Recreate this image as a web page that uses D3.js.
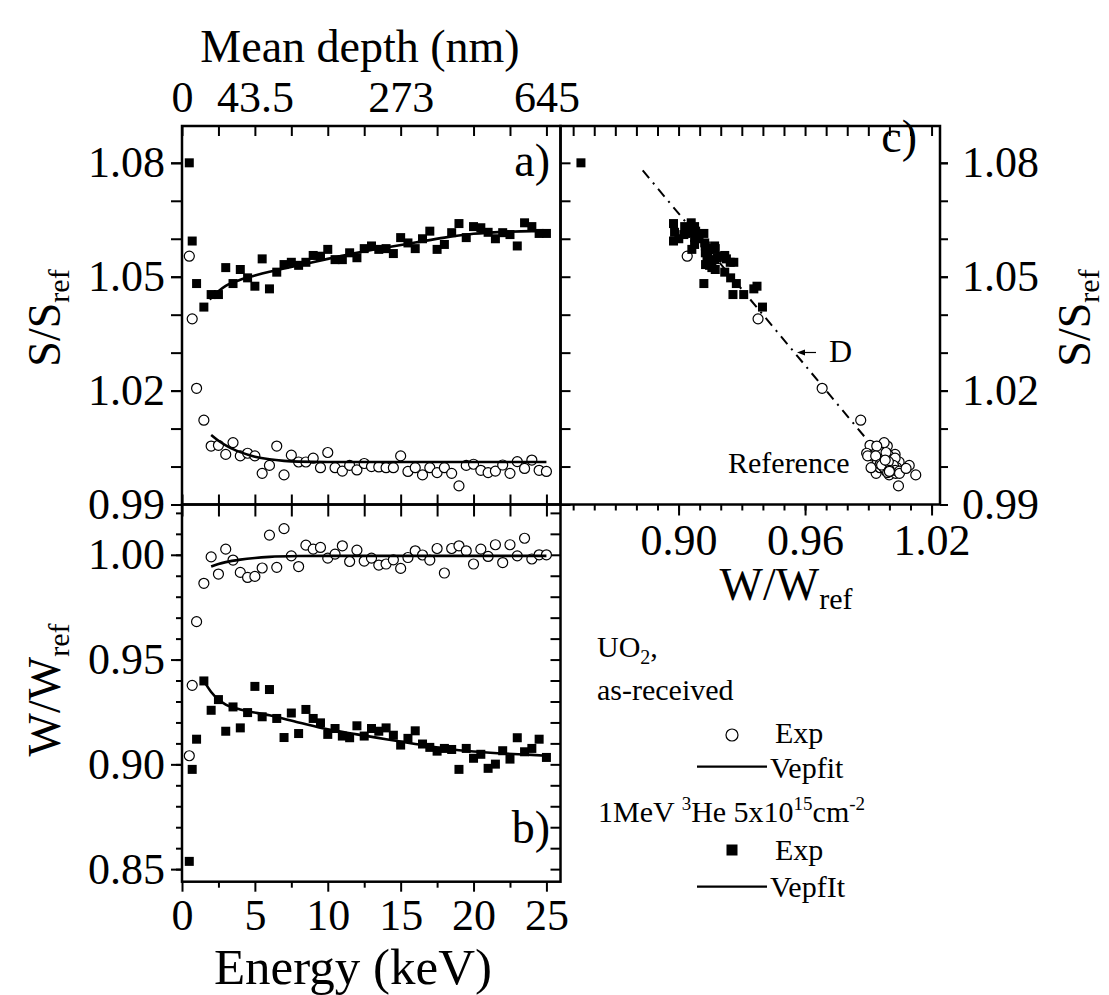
<!DOCTYPE html>
<html><head><meta charset="utf-8">
<script src="https://cdn.jsdelivr.net/npm/d3@7"></script>
<style>
body{margin:0;background:#fff}
svg{display:block}
text{font-family:"Liberation Serif","DejaVu Serif","Noto Serif",Tinos,"Times New Roman",serif;fill:#000}
</style>
</head><body>
<svg id="chart" width="1109" height="995"></svg>
<script>
// ---------------- data ----------------
const energy = [0.5,0.7,1.0,1.5,2.0,2.5,3.0,3.5,4.0,4.5,5.0,5.5,6.0,6.5,7.0,7.5,8.0,8.5,9.0,9.5,10.0,10.5,11.0,11.5,12.0,12.5,13.0,13.5,14.0,14.5,15.0,15.5,16.0,16.5,17.0,17.5,18.0,18.5,19.0,19.5,20.0,20.5,21.0,21.5,22.0,22.5,23.0,23.5,24.0,24.5,25.0];
// S/Sref, 1MeV 3He implanted (filled squares)
const sIrr = [1.0800,1.0594,1.0482,1.0420,1.0453,1.0453,1.0524,1.0482,1.0519,1.0497,1.0475,1.0547,1.0468,1.0512,1.0532,1.0538,1.0530,1.0538,1.0556,1.0554,1.0572,1.0545,1.0545,1.0563,1.0550,1.0574,1.0581,1.0572,1.0574,1.0561,1.0603,1.0589,1.0574,1.0600,1.0620,1.0572,1.0585,1.0616,1.0640,1.0603,1.0632,1.0629,1.0617,1.0600,1.0616,1.0611,1.0581,1.0642,1.0632,1.0614,1.0614];
// S/Sref, as-received (open circles)
const sAsr = [1.0554,1.0389,1.0206,1.0122,1.0054,1.0056,1.0032,1.0063,1.0028,1.0035,1.0028,0.9982,1.0003,1.0054,0.9978,1.0030,1.0012,1.0012,1.0022,0.9997,1.0037,0.9997,0.9988,1.0003,0.9991,1.0008,1.0000,0.9999,0.9997,0.9997,1.0028,0.9987,0.9997,0.9978,0.9997,0.9984,0.9997,0.9982,0.9949,1.0003,1.0006,0.9990,0.9984,0.9988,1.0004,0.9982,1.0013,0.9995,1.0017,0.9990,0.9987];
// W/Wref, 1MeV 3He implanted (filled squares)
const wIrr = [0.8537,0.8976,0.9120,0.9398,0.9258,0.9309,0.9158,0.9274,0.9174,0.9247,0.9372,0.9227,0.9357,0.9219,0.9128,0.9245,0.9147,0.9262,0.9219,0.9198,0.9143,0.9171,0.9135,0.9127,0.9184,0.9135,0.9171,0.9158,0.9174,0.9139,0.9092,0.9124,0.9160,0.9097,0.9081,0.9063,0.9076,0.9071,0.8976,0.9076,0.9029,0.9048,0.8981,0.9001,0.9065,0.9025,0.9127,0.9060,0.9076,0.9120,0.9033];
// W/Wref, as-received (open circles)
const wAsr = [0.9041,0.9377,0.9681,0.9864,0.9990,0.9908,1.0027,0.9975,0.9916,0.9892,0.9897,0.9937,1.0094,0.9940,1.0125,0.9995,0.9944,1.0046,1.0027,1.0035,0.9984,1.0003,1.0043,0.9968,1.0022,0.9970,0.9984,0.9951,0.9956,0.9976,0.9935,0.9987,1.0019,0.9999,0.9975,1.0030,0.9913,1.0030,1.0043,1.0019,0.9956,1.0027,0.9992,1.0048,0.9963,1.0048,0.9995,1.0079,0.9980,1.0000,1.0000];

// VEPFIT curves
const fitSIrrE = [1.9,2.5,3,4,5,6,8,10,12,14,16,18,20,22,24,25];
const fitSIrr  = [1.0440,1.0462,1.0476,1.0492,1.0503,1.0513,1.0530,1.0547,1.0563,1.0577,1.0590,1.0603,1.0613,1.0618,1.0620,1.0620];
const fitSAsrE = [2.0,2.5,3,3.5,4,5,6,7,8,10,15,20,25];
const fitSAsr  = [1.0083,1.0068,1.0056,1.0046,1.0038,1.0026,1.0019,1.0015,1.0013,1.0012,1.0012,1.0012,1.0012];
const fitWAsrE = [2.0,2.5,3,4,5,6,8,10,15,20,25];
const fitWAsr  = [0.9944,0.9956,0.9965,0.9977,0.9985,0.9990,0.9994,0.9995,0.9995,0.9995,0.9995];
const fitWIrrE = [1.5,2.0,2.5,3,4,6,8,10,12,14,16,18,20,22,24,25];
const fitWIrr  = [0.9398,0.9345,0.9309,0.9285,0.9262,0.9234,0.9200,0.9167,0.9143,0.9120,0.9097,0.9076,0.9061,0.9052,0.9045,0.9041];

// defect line D in the S-W plot
const lineDW = [0.883,1.000];
const lineDS = [1.078,1.000];

// ticks
const energyMajor = [0,5,10,15,20,25];
const energyMinor = [2.5,7.5,12.5,17.5,22.5];
const energyAll = [0,2.5,5,7.5,10,12.5,15,17.5,20,22.5,25];
const depthTickE = [0,5,15,25];
const depthLabels = ["0","43.5","273","645"];
const sMajor = [0.99,1.02,1.05,1.08];
const sAll = [0.99,1.00,1.01,1.02,1.03,1.04,1.05,1.06,1.07,1.08];
const wMajor = [0.85,0.90,0.95,1.00];
const wAll = [0.85,0.86,0.87,0.88,0.89,0.90,0.91,0.92,0.93,0.94,0.95,0.96,0.97,0.98,0.99,1.00,1.01,1.02];
const wcMajor = [0.90,0.96,1.02];

// ---------------- layout ----------------
const svg = d3.select("#chart");
const FONT = '"Liberation Serif","DejaVu Serif","Noto Serif",Tinos,"Times New Roman",serif';
const FS = 44;
const A = {x0:182, x1:560.5, y0:126, y1:504.5};
const B = {x0:182, x1:560.5, y0:504.5, y1:881.7};
const C = {x0:560.5, x1:940, y0:126, y1:504.5};

const xE = d3.scaleLinear().domain([0,26]).range([A.x0, A.x0+26*14.577]);
const yS = d3.scaleLinear().domain([0.99,1.0897]).range([A.y1, A.y0]);
const yW = d3.scaleLinear().domain([0.844,1.024]).range([B.y1, B.y0]);
const xW = d3.scaleLinear().domain([0.844,1.024]).range([C.x0, C.x1]);

function styleAxis(g, showText){
  g.select(".domain").remove();
  g.selectAll(".tick line").attr("stroke","#000").attr("stroke-width",2);
  g.selectAll(".tick text").attr("font-size",FS).attr("fill","#000").attr("font-family",FONT);
  if(!showText) g.selectAll(".tick text").remove();
}
function axis(gen, tx, ty, show){
  const g = svg.append("g").attr("transform",`translate(${tx},${ty})`).call(gen);
  styleAxis(g, show);
  return g;
}
const nf = d3.format(".2f");

// ---- Panel a ----
axis(d3.axisLeft(yS).tickValues(sAll).tickSize(11).tickFormat(""), A.x0, 0, false);
axis(d3.axisLeft(yS).tickValues(sMajor).tickSize(11).tickPadding(6).tickFormat(nf), A.x0, 0, true);
axis(d3.axisLeft(yS).tickValues(sAll).tickSize(-10).tickFormat(""), A.x1, 0, false);
axis(d3.axisTop(xE).tickValues(energyAll).tickSize(-10).tickFormat(""), 0, A.y0, false);
axis(d3.axisTop(xE).tickValues(depthTickE).tickSize(0).tickPadding(14)
  .tickFormat((d,i)=>depthLabels[i]), 0, A.y0, true);
axis(d3.axisBottom(xE).tickValues(energyAll).tickSize(-10).tickFormat(""), 0, A.y1, false);

// ---- Panel b ----
axis(d3.axisTop(xE).tickValues(energyAll).tickSize(-12).tickFormat(""), 0, B.y0, false);
axis(d3.axisBottom(xE).tickValues(energyMinor).tickSize(6).tickFormat(""), 0, B.y1, false);
axis(d3.axisBottom(xE).tickValues(energyMajor).tickSize(10).tickPadding(7).tickFormat(d3.format("d")), 0, B.y1, true);
axis(d3.axisLeft(yW).tickValues(wAll).tickSize(6).tickFormat(""), B.x0, 0, false);
axis(d3.axisLeft(yW).tickValues(wMajor).tickSize(11).tickPadding(6).tickFormat(nf), B.x0, 0, true);
axis(d3.axisRight(yW).tickValues(wAll).tickSize(-10).tickFormat(""), B.x1, 0, false);

// ---- Panel c ----
const wcAll = wAll.filter(d=>d<=1.02);
axis(d3.axisTop(xW).tickValues(wcAll).tickSize(-10).tickFormat(""), 0, C.y0, false);
axis(d3.axisBottom(xW).tickValues(wcAll).tickSize(6).tickFormat(""), 0, C.y1, false);
axis(d3.axisBottom(xW).tickValues(wcMajor).tickSize(11).tickPadding(8).tickFormat(nf), 0, C.y1, true);
axis(d3.axisRight(yS).tickValues(sAll).tickSize(8).tickFormat(""), C.x1, 0, false);
axis(d3.axisRight(yS).tickValues(sMajor).tickSize(8).tickPadding(14).tickFormat(nf), C.x1, 0, true);

// frames
[A,B,C].forEach(p=>{
  svg.append("rect").attr("x",p.x0).attr("y",p.y0).attr("width",p.x1-p.x0).attr("height",p.y1-p.y0)
    .attr("fill","none").attr("stroke","#000").attr("stroke-width",2.5);
});

// ---------------- marks ----------------
const SQ = 9, R = 5;
function squares(xs, ys, sx, sy){
  svg.append("g").selectAll("rect").data(xs.map((d,i)=>[d,ys[i]])).join("rect")
    .attr("x",d=>sx(d[0])-SQ/2).attr("y",d=>sy(d[1])-SQ/2)
    .attr("width",SQ).attr("height",SQ).attr("fill","#000");
}
function circles(xs, ys, sx, sy){
  svg.append("g").selectAll("circle").data(xs.map((d,i)=>[d,ys[i]])).join("circle")
    .attr("cx",d=>sx(d[0])).attr("cy",d=>sy(d[1])).attr("r",R)
    .attr("fill","#fff").attr("stroke","#000").attr("stroke-width",1.2);
}
function curve(xs, ys, sx, sy, w, dash){
  const p = svg.append("path").datum(xs.map((d,i)=>[d,ys[i]]))
    .attr("d", d3.line().x(d=>sx(d[0])).y(d=>sy(d[1])).curve(d3.curveMonotoneX))
    .attr("fill","none").attr("stroke","#000").attr("stroke-width",w);
  if(dash) p.attr("stroke-dasharray",dash);
}

circles(energy, sAsr, xE, yS);
squares(energy, sIrr, xE, yS);
curve(fitSAsrE, fitSAsr, xE, yS, 2.6);
curve(fitSIrrE, fitSIrr, xE, yS, 2.6);
circles(energy, wAsr, xE, yW);
squares(energy, wIrr, xE, yW);
curve(fitWAsrE, fitWAsr, xE, yW, 2.6);
curve(fitWIrrE, fitWIrr, xE, yW, 2.6);
curve(lineDW, lineDS, xW, yS, 2, "10,6,2,6");
circles(wAsr, sAsr, xW, yS);
squares(wIrr, sIrr, xW, yS);

// ---------------- text ----------------
function txt(x,y,s,size,anchor){
  return svg.append("text").attr("x",x).attr("y",y).attr("font-size",size)
    .attr("font-family",FONT).attr("text-anchor",anchor||"start").text(s);
}
txt(360, 62, "Mean depth (nm)", 46, "middle");
txt(353, 984, "Energy (keV)", 51, "middle");

function subTitle(x, y, main, sub, rot){
  const t = svg.append("text").attr("font-size",46).attr("font-family",FONT)
    .attr("text-anchor","middle")
    .attr("transform",`translate(${x},${y})` + (rot?" rotate(-90)":""));
  t.append("tspan").text(main);
  t.append("tspan").attr("font-size",30).attr("dy",9).text(sub);
}
subTitle(786, 600, "W/W", "ref", false);
subTitle(60, 318, "S/S", "ref", true);
subTitle(60, 690, "W/W", "ref", true);
subTitle(1090, 318, "S/S", "ref", true);

txt(550, 176, "a)", 46, "end");
txt(550, 843, "b)", 46, "end");
txt(917, 152, "c)", 46, "end");

txt(829, 362, "D", 32, "start");
svg.append("line").attr("x1",816).attr("y1",352.5).attr("x2",800).attr("y2",352.5)
  .attr("stroke","#000").attr("stroke-width",1.2);
svg.append("path").attr("d","M797,352.5 L805,349.5 L805,355.5 Z").attr("fill","#000");
txt(728, 473, "Reference", 30, "start");

const LF = 30;
const uo = txt(597, 657, "UO", LF);
uo.append("tspan").attr("font-size",20).attr("dy",7).text("2");
uo.append("tspan").attr("dy",-7).text(",");
txt(597, 700, "as-received", LF);
svg.append("circle").attr("cx",732).attr("cy",735).attr("r",6)
  .attr("fill","#fff").attr("stroke","#000").attr("stroke-width",1.2);
txt(775, 743, "Exp", LF);
svg.append("line").attr("x1",697).attr("x2",767).attr("y1",766.7).attr("y2",766.7)
  .attr("stroke","#000").attr("stroke-width",2.2);
txt(770, 778, "Vepfit", LF);
const he = txt(598, 822, "1MeV ", LF);
he.append("tspan").attr("font-size",19).attr("dy",-12).text("3");
he.append("tspan").attr("dy",12).text("He 5x10");
he.append("tspan").attr("font-size",19).attr("dy",-12).text("15");
he.append("tspan").attr("dy",12).text("cm");
he.append("tspan").attr("font-size",19).attr("dy",-12).text("-2");
svg.append("rect").attr("x",732-5.5).attr("y",850-5.5).attr("width",11).attr("height",11).attr("fill","#000");
txt(775, 860, "Exp", LF);
svg.append("line").attr("x1",697).attr("x2",767).attr("y1",886.7).attr("y2",886.7)
  .attr("stroke","#000").attr("stroke-width",2.2);
txt(770, 897, "VepfIt", LF);
</script>
</body></html>
